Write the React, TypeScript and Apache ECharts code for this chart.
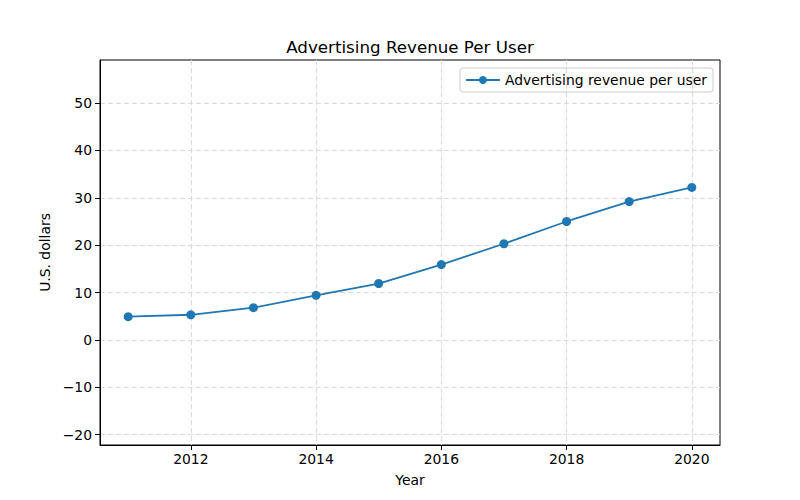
import React, { useEffect, useRef } from "react";
import * as echarts from "echarts";

const years = [2011, 2012, 2013, 2014, 2015, 2016, 2017, 2018, 2019, 2020];
const revenuePerUser = [4.9, 5.3, 6.8, 9.4, 11.9, 15.9, 20.3, 25.0, 29.2, 32.2];
const xTicks = [2012, 2014, 2016, 2018, 2020];
const yTicks = [-20, -10, 0, 10, 20, 30, 40, 50];

const FONT = "DejaVu Sans";

export default function App() {
  const ref = useRef<HTMLDivElement>(null);
  useEffect(() => {
    if (!ref.current) return;
    const chart = echarts.init(ref.current, null, { renderer: "svg" });
    chart.setOption({
      animation: false,
      textStyle: { fontFamily: FONT },
      title: {
        text: "Advertising Revenue Per User",
        left: 405,
        textAlign: "center",
        top: 33,
        textStyle: { fontFamily: FONT, fontSize: 16.7, fontWeight: "normal", color: "#000" },
      },
      legend: {
        right: 87,
        top: 68,
        padding: [5, 6, 5, 5],
        itemWidth: 34,
        itemHeight: 10,
        itemGap: 0,
        borderColor: "#cccccc",
        borderWidth: 1,
        borderRadius: 3,
        textStyle: { fontFamily: FONT, fontSize: 13.9, color: "#000" },
        data: [{ name: "Advertising revenue per user" }],
      },
      grid: {
        left: 100,
        right: 80,
        top: 60,
        bottom: 55,
        show: true,
        borderColor: "#000",
        borderWidth: 1,
        backgroundColor: "transparent",
      },
      xAxis: {
        type: "value",
        min: 2010.55,
        max: 2020.45,
        name: "Year",
        nameLocation: "middle",
        nameGap: 28,
        nameTextStyle: { fontFamily: FONT, fontSize: 13.9, color: "#000", verticalAlign: "top" },
        axisLine: { show: true, onZero: false, lineStyle: { color: "#000", width: 1 } },
        axisTick: { show: true, length: 5, inside: false, customValues: xTicks, lineStyle: { color: "#000" } },
        axisLabel: { customValues: xTicks, fontFamily: FONT, fontSize: 13.9, color: "#000", margin: 7, formatter: (v: number) => String(v) },
        splitLine: { show: true, lineStyle: { color: "#d9d9d9", type: [5, 3], width: 1 } },
      },
      yAxis: {
        type: "value",
        min: -22.2,
        max: 59.1,
        name: "U.S. dollars",
        nameLocation: "middle",
        nameRotate: 90,
        nameGap: 46,
        nameTextStyle: { fontFamily: FONT, fontSize: 13.9, color: "#000" },
        axisLine: { show: true, onZero: false, lineStyle: { color: "#000", width: 1 } },
        axisTick: { show: true, length: 5, inside: false, customValues: yTicks, lineStyle: { color: "#000" } },
        axisLabel: {
          customValues: yTicks,
          fontFamily: FONT,
          fontSize: 13.9,
          color: "#000",
          margin: 8,
          formatter: (v: number) => (v < 0 ? "\u2212" + Math.abs(v) : String(v)),
        },
        splitLine: { show: true, lineStyle: { color: "#d9d9d9", type: [5, 3], width: 1 } },
      },
      series: [
        {
          name: "Advertising revenue per user",
          type: "line",
          data: years.map((y, i) => [y, revenuePerUser[i]]),
          symbol: "circle",
          symbolSize: 9,
          lineStyle: { color: "#1f77b4", width: 1.8 },
          itemStyle: { color: "#1f77b4" },
        },
      ],
    });
    return () => chart.dispose();
  }, []);
  return <div ref={ref} style={{ width: 800, height: 500, marginLeft: -8, marginTop: -8 }} />;
}
